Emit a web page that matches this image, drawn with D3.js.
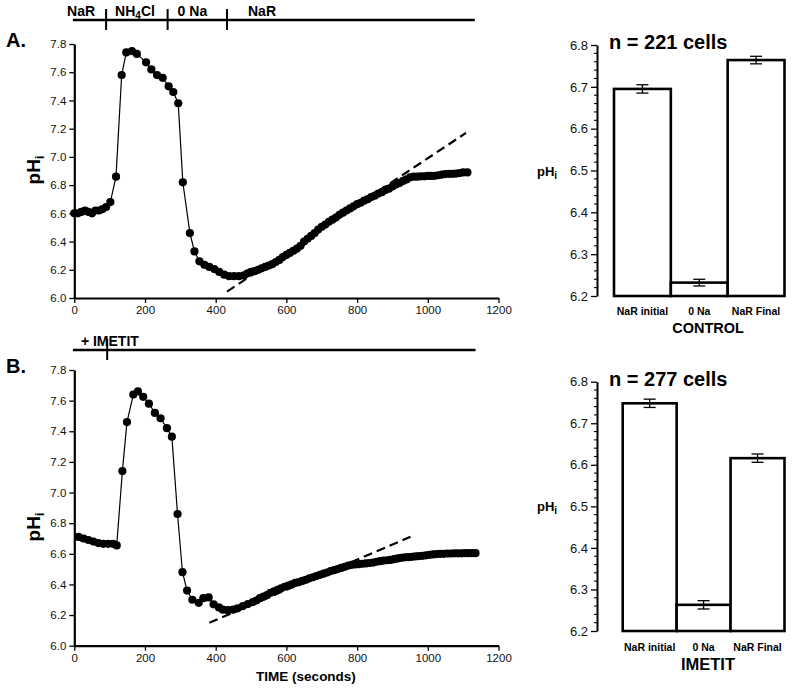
<!DOCTYPE html>
<html><head><meta charset="utf-8">
<script src="https://cdn.jsdelivr.net/npm/d3@7"></script>
<style>
body{margin:0;background:#fff;}
svg{display:block;font-family:"Liberation Sans",Arial,Helvetica,sans-serif;}
</style></head>
<body>
<svg id="c" width="800" height="688"></svg>
<script>
// ---------- DATA ----------
const timeA = [0,10,20,30,40,50,60,70,80,90,102,118,134,147,163,177,203,218,234,250,267,280,294,307,327,340,354,368,382,396,410,424,438,452,466,480,490,500,
510,520,530,540,550,560,570,580,590,600,610,620,630,640,650,660,670,680,690,700,710,720,730,740,750,760,770,780,790,800,810,820,830,840,850,860,870,880,890,900,910,920,930,940,950,960,970,980,990,1000,1010,1020,1030,1040,1050,1060,1070,1080,1090,1100,1112];
const phA = [6.60,6.60,6.61,6.62,6.61,6.60,6.62,6.62,6.63,6.645,6.68,6.86,7.58,7.74,7.75,7.73,7.67,7.62,7.58,7.56,7.50,7.46,7.38,6.82,6.46,6.33,6.26,6.235,6.22,6.205,6.185,6.165,6.155,6.155,6.155,6.16,6.175,6.185,
6.19,6.20,6.21,6.22,6.23,6.24,6.255,6.27,6.29,6.305,6.32,6.335,6.35,6.37,6.40,6.42,6.44,6.46,6.485,6.505,6.52,6.54,6.555,6.57,6.59,6.605,6.62,6.635,6.65,6.665,6.675,6.69,6.70,6.715,6.725,6.74,6.75,6.765,6.775,6.79,6.805,6.815,6.83,6.84,6.855,6.86,6.86,6.862,6.862,6.865,6.865,6.866,6.87,6.875,6.878,6.88,6.88,6.882,6.885,6.89,6.89];
const dashA = [[432,6.045],[1108,7.17]];
const phaseTimesA = [-4,90,264,432,1133];
const phaseLabelsA = ["NaR","NH4Cl","0 Na","NaR"];

const timeB = [12,26,40,54,68,82,96,110,120,136,149,167,180,195,211,228,244,262,276,292,306,319,334,352,365,380,394,409,420,434,449,462,477,491,505,
515,525,535,545,555,565,575,585,595,605,615,625,635,645,655,665,675,685,695,705,715,725,735,745,755,765,775,785,795,805,815,825,835,845,855,865,875,885,895,905,915,925,935,945,955,965,975,985,995,1005,1015,1025,1035,1045,1055,1065,1075,1085,1095,1105,1115,1125,1135];
const phB = [6.71,6.70,6.69,6.68,6.67,6.665,6.665,6.665,6.655,7.14,7.46,7.64,7.66,7.625,7.58,7.52,7.485,7.42,7.365,6.86,6.48,6.36,6.30,6.28,6.31,6.315,6.27,6.25,6.235,6.232,6.235,6.244,6.259,6.272,6.285,
6.295,6.31,6.32,6.33,6.345,6.355,6.365,6.375,6.385,6.393,6.40,6.41,6.415,6.423,6.43,6.44,6.447,6.455,6.463,6.47,6.478,6.487,6.493,6.50,6.508,6.515,6.523,6.528,6.53,6.532,6.535,6.537,6.54,6.543,6.548,6.552,6.556,6.558,6.56,6.565,6.57,6.574,6.577,6.578,6.58,6.583,6.585,6.587,6.59,6.593,6.596,6.598,6.60,6.60,6.602,6.602,6.603,6.603,6.603,6.604,6.604,6.604,6.604];
const dashB = [[382,6.15],[951,6.711]];
const phaseTimesB = [-4,93,1135];
const phaseLabelsB = ["+ IMETIT"];

const xTicks = [0,200,400,600,800,1000,1200];
const yTicks = [6.0,6.2,6.4,6.6,6.8,7.0,7.2,7.4,7.6,7.8];

const barCats = ["NaR initial","0 Na","NaR Final"];
const barControl = [6.695,6.232,6.764];
const errControl = [0.010,0.008,0.009];
const barImetit = [6.748,6.263,6.616];
const errImetit = [0.010,0.010,0.010];
const barTicks = [6.2,6.3,6.4,6.5,6.6,6.7,6.8];

// ---------- DRAW ----------
const svg = d3.select("#c");
const F = '"Liberation Sans",Arial,Helvetica,sans-serif';

function linePanel(o){
  const g = svg.append("g");
  const x = d3.scaleLinear().domain([0,1200]).range([74.3,498.5]);
  const y = d3.scaleLinear().domain([6.0,7.8]).range([o.y0,o.y1]);
  const xa = g.append("g").attr("transform",`translate(0,${o.y0})`)
    .call(d3.axisBottom(x).tickValues(xTicks).tickFormat(d3.format("d")).tickSize(5).tickSizeOuter(0).tickPadding(3));
  const ya = g.append("g").attr("transform",`translate(74.3,0)`)
    .call(d3.axisLeft(y).tickValues(yTicks).tickFormat(d3.format(".1f")).tickSize(5).tickSizeOuter(0).tickPadding(3));
  [xa,ya].forEach(a=>{
    a.select(".domain").attr("stroke","#000").attr("stroke-width",2.2);
    a.selectAll(".tick line").attr("stroke","#000").attr("stroke-width",1.3);
    a.selectAll(".tick text").attr("fill","#111").style("font-family",F).style("font-size","11.5px");
  });
  const pts = o.t.map((t,i)=>[t,o.v[i]]);
  g.append("path").datum(pts)
    .attr("fill","none").attr("stroke","#000").attr("stroke-width",1.2)
    .attr("d",d3.line().x(d=>x(d[0])).y(d=>y(d[1])));
  g.selectAll("circle.pt").data(pts).join("circle").attr("class","pt")
    .attr("cx",d=>x(d[0])).attr("cy",d=>y(d[1])).attr("r",4.1).attr("fill","#000");
  g.append("path").datum(o.dash)
    .attr("fill","none").attr("stroke","#000").attr("stroke-width",2.2).attr("stroke-dasharray","9,5")
    .attr("d",d3.line().x(d=>x(d[0])).y(d=>y(d[1])));
  const pt = o.phases;
  g.append("line").attr("x1",x(pt[0])).attr("x2",x(pt[pt.length-1]))
    .attr("y1",o.barY).attr("y2",o.barY).attr("stroke","#000").attr("stroke-width",2.4);
  g.selectAll("line.ph").data(pt.slice(1,-1)).join("line").attr("class","ph")
    .attr("x1",d=>x(d)).attr("x2",d=>x(d)).attr("y1",o.barY-11).attr("y2",o.barY+10)
    .attr("stroke","#000").attr("stroke-width",2);
  o.labels.forEach((lab,i)=>{
    const t = g.append("text").attr("y",o.barY-4).attr("font-weight","bold").attr("font-size",14).attr("fill","#000");
    const off = o.labelOff[i];
    const bx = off.anchor==="end" ? x(pt[i+1])+off.dx : x(pt[i])+off.dx;
    t.attr("x",bx).attr("text-anchor",off.anchor);
    if(lab==="NH4Cl"){
      t.append("tspan").text("NH");
      t.append("tspan").attr("font-size",10).attr("dy",3).text("4");
      t.append("tspan").attr("dy",-3).text("Cl");
    } else t.text(lab);
  });
  g.append("text").attr("x",6).attr("y",o.letterY).attr("font-weight","bold").attr("font-size",20).text(o.letter);
  const yl = g.append("text").attr("transform",`translate(40,${o.ylabY}) rotate(-90)`)
    .attr("text-anchor","middle").attr("font-weight","bold").attr("font-size",19);
  yl.append("tspan").text("pH");
  yl.append("tspan").attr("font-size",13).attr("dy",4).text("i");
  return {x,y};
}

linePanel({t:timeA,v:phA,dash:dashA,y0:298,y1:44,barY:20,phases:phaseTimesA,labels:phaseLabelsA,
  labelOff:[{anchor:"end",dx:-11},{anchor:"start",dx:9},{anchor:"start",dx:10},{anchor:"start",dx:21}],
  letter:"A.",letterY:47,ylabY:170});
linePanel({t:timeB,v:phB,dash:dashB,y0:645.7,y1:370,barY:350,phases:phaseTimesB,labels:phaseLabelsB,
  labelOff:[{anchor:"start",dx:8}],letter:"B.",letterY:373,ylabY:527});

svg.append("text").attr("x",306).attr("y",681).attr("text-anchor","middle")
  .attr("font-weight","bold").attr("font-size",13.5).text("TIME (seconds)");

function barPanel(o){
  const g = svg.append("g");
  const y = d3.scaleLinear().domain([6.2,6.8]).range([o.y0,o.y1]);
  const x = d3.scaleBand().domain(barCats).range([o.xl,784.5]).paddingInner(0).paddingOuter(0);
  const ax = g.append("g").attr("transform",`translate(597,0)`)
    .call(d3.axisLeft(y).tickValues(barTicks).tickFormat(d3.format(".1f")).tickSize(6).tickSizeOuter(0).tickPadding(3));
  ax.select(".domain").attr("stroke","#000").attr("stroke-width",2);
  ax.selectAll(".tick line").attr("stroke","#000").attr("stroke-width",1.3);
  ax.selectAll(".tick text").attr("fill","#111").style("font-family",F).style("font-size","13px");
  const minor = d3.range(0,31).map(i=>6.2+i*0.02).filter((d,i)=>i%5!==0);
  g.selectAll("line.mn").data(minor).join("line").attr("class","mn")
    .attr("x1",594).attr("x2",597).attr("y1",d=>y(d)).attr("y2",d=>y(d)).attr("stroke","#000").attr("stroke-width",1.1);
  g.selectAll("rect.bar").data(o.vals).join("rect").attr("class","bar")
    .attr("x",(d,i)=>x(barCats[i])).attr("width",x.bandwidth())
    .attr("y",d=>y(d)).attr("height",d=>y(6.2)-y(d))
    .attr("fill","#fff").attr("stroke","#000").attr("stroke-width",2.6);
  o.vals.forEach((v,i)=>{
    const cx = x(barCats[i])+x.bandwidth()/2, e=o.err[i];
    g.append("line").attr("x1",cx).attr("x2",cx).attr("y1",y(v+e)).attr("y2",y(v-e)).attr("stroke","#000").attr("stroke-width",1.3);
    [v+e,v-e].forEach(w=>g.append("line").attr("x1",cx-6).attr("x2",cx+6).attr("y1",y(w)).attr("y2",y(w)).attr("stroke","#000").attr("stroke-width",1.3));
  });
  g.selectAll("text.cat").data(barCats).join("text").attr("class","cat")
    .attr("x",d=>x(d)+x.bandwidth()/2).attr("y",o.catY).attr("text-anchor","middle")
    .attr("font-weight","bold").attr("font-size",10.5).text(d=>d);
  g.append("text").attr("x",609).attr("y",o.nY).attr("font-weight","bold").attr("font-size",20).text(o.n);
  const pl = g.append("text").attr("x",537).attr("y",o.plY).attr("font-weight","bold").attr("font-size",13);
  pl.append("tspan").text("pH");
  pl.append("tspan").attr("font-size",10).attr("dy",3).text("i");
  g.append("text").attr("x",708).attr("y",o.tY).attr("text-anchor","middle").attr("font-weight","bold")
    .attr("font-size",o.tSize).text(o.title);
}
barPanel({vals:barControl,err:errControl,y0:296,y1:45,xl:614,catY:315,nY:49,plY:176,tY:333,tSize:14.5,title:"CONTROL",n:"n = 221 cells"});
barPanel({vals:barImetit,err:errImetit,y0:631,y1:381.7,xl:622.7,catY:651,nY:386,plY:511,tY:670,tSize:16.5,title:"IMETIT",n:"n = 277 cells"});
</script>
</body></html>
